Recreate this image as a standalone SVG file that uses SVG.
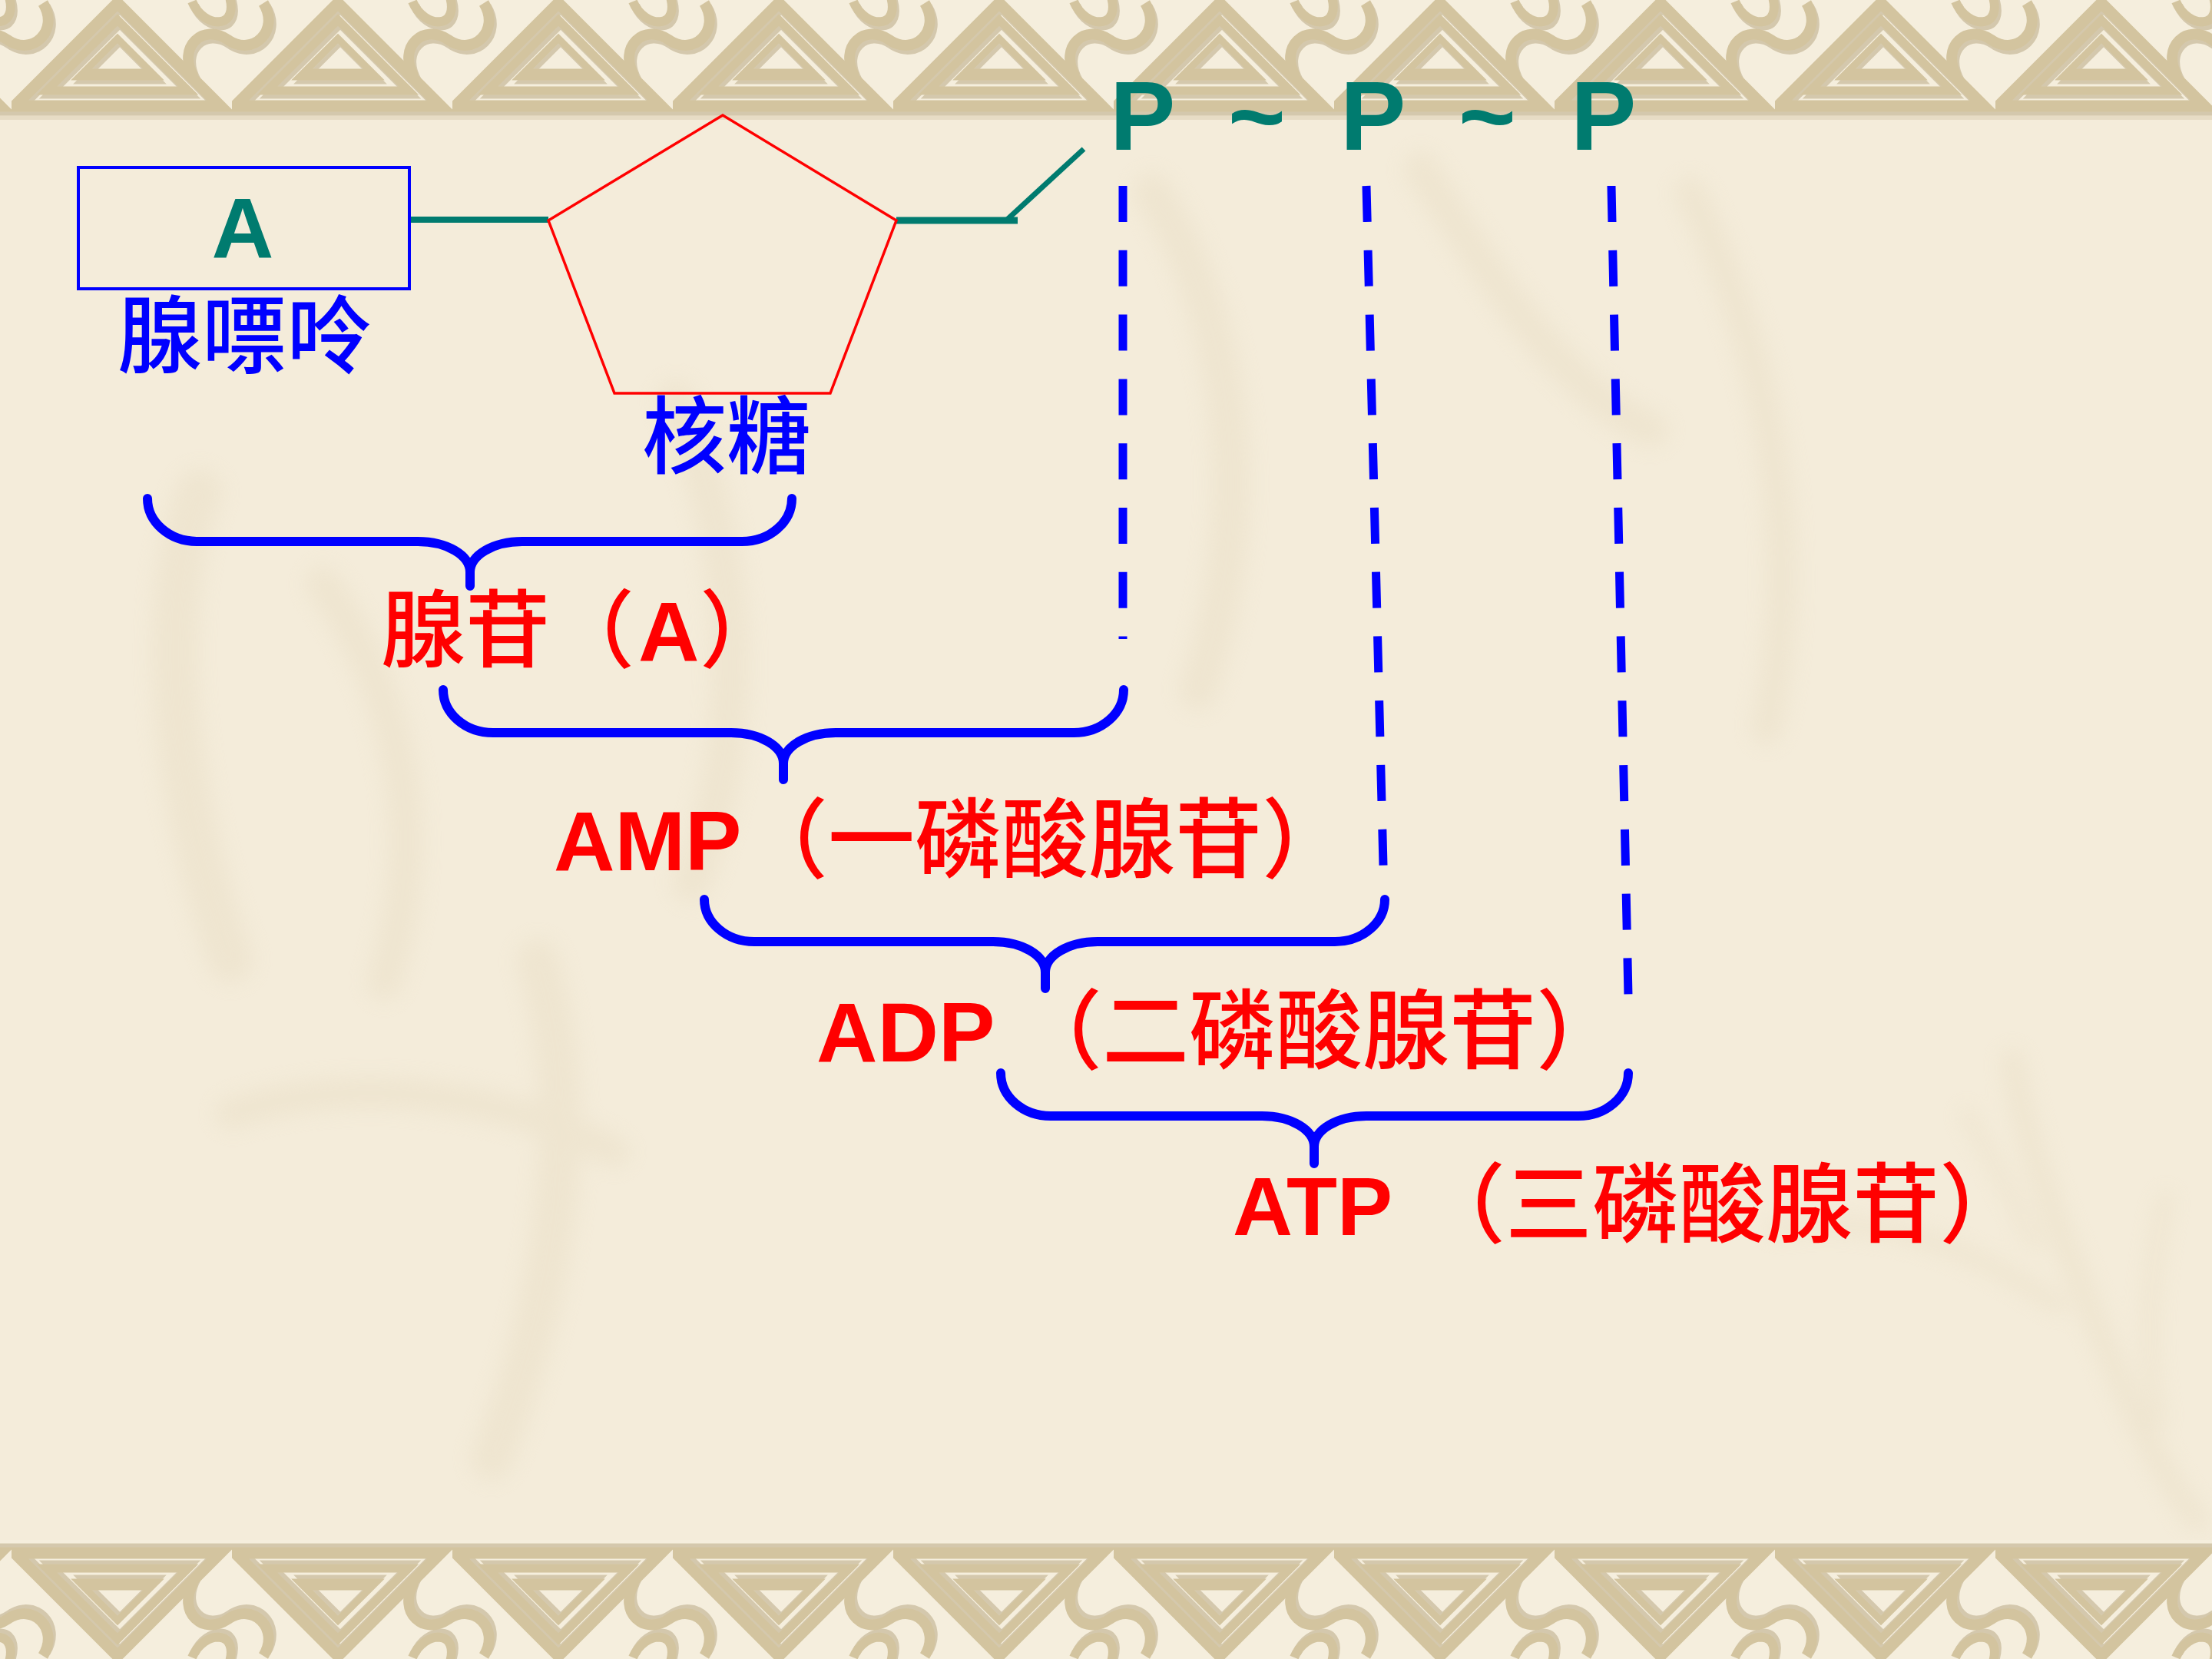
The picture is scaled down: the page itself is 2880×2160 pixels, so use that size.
<svg xmlns="http://www.w3.org/2000/svg" width="2880" height="2160" viewBox="0 0 2880 2160">
<defs>
<style>
.bg{fill:#F4ECDA}
.band{fill:#F5EEDD}
.knot{fill:none;stroke:#D3C49F;stroke-linejoin:miter}
.knotsh{fill:none;stroke:#B9A985;stroke-linejoin:miter;opacity:.55}
.wm{fill:none;stroke:#E8DDC4;stroke-linecap:round;stroke-linejoin:round}
.teal{stroke:#007B6F;fill:none}
.brace{fill:none;stroke:#0000FF;stroke-width:12;stroke-linecap:round;stroke-linejoin:round}
.dash{fill:none;stroke:#0000FF;stroke-width:11;stroke-dasharray:47 36.8}
.lat{font-family:"Liberation Sans",Arial,sans-serif;font-weight:bold}
.cjk{font-family:"Noto Sans CJK SC","Noto Sans CJK TC",sans-serif;font-weight:500}
.red{fill:#FF0000}
.blue{fill:#0000FF}
.tealtxt{fill:#007B6F}
</style>
<filter id="blur" x="-10%" y="-10%" width="120%" height="120%"><feGaussianBlur stdDeviation="14"/></filter>
<g id="knotunit">
<path d="M4,138 L138,4 L272,138 Z" stroke-width="15"/>
<path d="M46,118 L138,26 L230,118 Z" stroke-width="11"/>
<path d="M88,100 L138,50 L188,100 Z" stroke-width="9"/>
<path d="M96,94 L180,94" stroke-width="9"/>
<path d="M237,100 C215,60 250,30 282,52 C314,74 350,40 328,4" stroke-width="14"/>
<path d="M-50,100 C-72,60 -37,30 -5,52 C27,74 63,40 41,4" stroke-width="14"/>
<path d="M235,2 C250,38 300,40 282,-10" stroke-width="12"/>
<path d="M-52,2 C-37,38 13,40 -5,-10" stroke-width="12"/>
</g>
<pattern id="knotpat" x="15" y="0" width="287" height="160" patternUnits="userSpaceOnUse">
<use href="#knotunit" class="knotsh" transform="translate(3,5)"/>
<use href="#knotunit" class="knot"/>
</pattern>
</defs>

<g id="background">
<rect class="bg" x="0" y="0" width="2880" height="2160"/>
<g filter="url(#blur)" opacity="0.45">
<path class="wm" stroke-width="60" d="M260,640 C200,800 230,1050 300,1250"/>
<path class="wm" stroke-width="45" d="M420,760 C520,900 560,1080 500,1280"/>
<path class="wm" stroke-width="50" d="M880,520 C960,700 980,950 900,1150"/>
<path class="wm" stroke-width="40" d="M300,1450 C450,1400 650,1420 800,1500"/>
<path class="wm" stroke-width="55" d="M700,1250 C760,1450 720,1700 640,1900"/>
<path class="wm" stroke-width="50" d="M1500,250 C1600,400 1640,650 1560,900"/>
<path class="wm" stroke-width="45" d="M1850,220 C1950,380 2050,520 2150,560"/>
<path class="wm" stroke-width="40" d="M2200,250 C2300,450 2350,700 2300,950"/>
<path class="wm" stroke-width="30" d="M2620,1380 C2640,1500 2680,1600 2720,1700 C2760,1800 2800,1900 2860,1980"/>
<path class="wm" stroke-width="22" d="M2310,1600 C2450,1580 2560,1620 2680,1700"/>
<path class="wm" stroke-width="18" d="M2560,1450 C2600,1520 2620,1560 2650,1620"/>
<path class="wm" stroke-width="20" d="M2820,1560 C2800,1650 2790,1750 2810,1850"/>
</g>
<rect class="band" x="0" y="0" width="2880" height="150"/>
<rect x="0" y="0" width="2880" height="152" fill="url(#knotpat)"/>
<rect x="0" y="150" width="2880" height="6" fill="#DDD2B8" opacity="0.6"/>
<g transform="translate(0,2160) scale(1,-1)">
<rect class="band" x="0" y="0" width="2880" height="155"/>
<rect x="0" y="0" width="2880" height="157" fill="url(#knotpat)"/>
</g>
</g>

<g id="connectors">
<line class="teal" x1="533" y1="286" x2="714" y2="286" stroke-width="8"/>
<line class="teal" x1="1167" y1="287" x2="1325" y2="287" stroke-width="9"/>
<line class="teal" x1="1310" y1="287" x2="1411" y2="194" stroke-width="7"/>
<line class="dash" x1="1462" y1="242" x2="1462" y2="832"/>
<line class="dash" x1="1779" y1="242" x2="1801" y2="1127"/>
<line class="dash" x1="2098" y1="242" x2="2120" y2="1297"/>
<path class="brace" d="M192,649 C192,680 221,705 257,705 L544,705 C582,705 612,723 612,745 L612,763 M612,745 C612,723 642,705 680,705 L966,705 C1002,705 1031,680 1031,649"/>
<path class="brace" d="M577,898 C577,929 606,954 642,954 L952,954 C990,954 1020,972 1020,994 L1020,1015 M1020,994 C1020,972 1050,954 1088,954 L1398,954 C1434,954 1463,929 1463,898"/>
<path class="brace" d="M917,1171 C917,1201 946,1226 982,1226 L1293,1226 C1331,1226 1361,1244 1361,1266 L1361,1287 M1361,1266 C1361,1244 1391,1226 1429,1226 L1738,1226 C1774,1226 1803,1201 1803,1171"/>
<path class="brace" d="M1303,1397 C1303,1428 1332,1453 1368,1453 L1643,1453 C1681,1453 1711,1471 1711,1493 L1711,1515 M1711,1493 C1711,1471 1741,1453 1779,1453 L2055,1453 C2091,1453 2120,1428 2120,1397"/>
</g>

<g id="adenine">
<rect x="102" y="218" width="431" height="158" fill="none" stroke="#0000FF" stroke-width="4"/>
<text class="lat tealtxt" x="316" y="336" font-size="112" text-anchor="middle">A</text>
<text class="cjk blue" x="153" y="477" font-size="110">腺嘌呤</text>
</g>

<g id="ribose">
<polygon points="714,287 941,150 1167,287 1081,512 800,512" fill="none" stroke="#FF0000" stroke-width="3.5"/>
<text class="cjk blue" x="836" y="608" font-size="110">核糖</text>
</g>

<g id="phosphates">
<text class="lat tealtxt" font-size="128" y="195"><tspan x="1445">P</tspan><tspan x="1599">~</tspan><tspan x="1745">P</tspan><tspan x="1899">~</tspan><tspan x="2045">P</tspan></text>
</g>

<g id="adenosine">
<text class="red" y="860" font-size="110"><tspan class="cjk" x="496">腺苷（</tspan><tspan class="lat" x="831">A</tspan><tspan class="cjk" x="911">）</tspan></text>
</g>

<g id="amp">
<text class="red" y="1133"><tspan class="lat" x="721" font-size="110">AMP</tspan><tspan class="cjk" x="965" font-size="113">（一磷酸腺苷）</tspan></text>
</g>

<g id="adp">
<text class="red" y="1382"><tspan class="lat" x="1063" font-size="110">ADP</tspan><tspan class="cjk" x="1322" font-size="113">（二磷酸腺苷）</tspan></text>
</g>

<g id="atp">
<text class="red" y="1608"><tspan class="lat" x="1605" font-size="108">ATP</tspan><tspan class="cjk" x="1847" font-size="113">（三磷酸腺苷）</tspan></text>
</g>
</svg>
